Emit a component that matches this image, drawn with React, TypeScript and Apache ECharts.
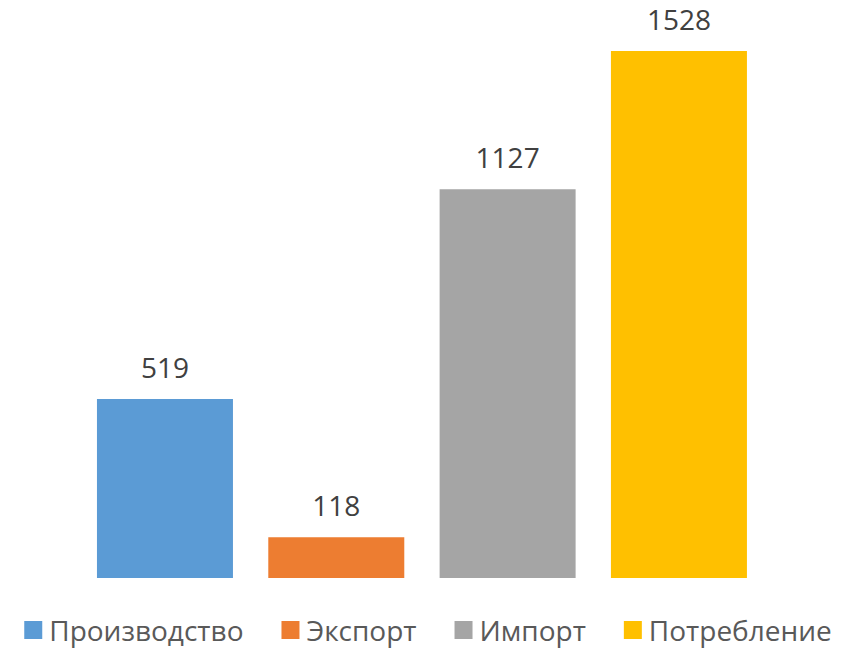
import React, { useEffect, useRef } from "react";
import * as echarts from "echarts";

const categories = ["Производство", "Экспорт", "Импорт", "Потребление"];
const values = [519, 118, 1127, 1528];
const colors = ["#5B9BD5", "#ED7D31", "#A5A5A5", "#FFC000"];

export default function App() {
  const ref = useRef<HTMLDivElement>(null);
  useEffect(() => {
    const chart = echarts.init(ref.current!, null, { renderer: "svg" });
    const series = categories.map((name, i) => ({
      name,
      type: "bar",
      stack: "all",
      barWidth: 136,
      itemStyle: { color: colors[i] },
      label: {
        show: true,
        position: "top",
        distance: 18,
        fontSize: 28,
        fontFamily: "Open Sans",
        color: "#404040",
      },
      data: categories.map((_, j) => (j === i ? values[i] : "-")),
    }));
    chart.setOption({
      animation: false,
      grid: { left: 79.3, width: 685.3, top: 51, bottom: 73 },
      xAxis: {
        type: "category",
        data: categories,
        show: false,
      },
      yAxis: { type: "value", min: 0, max: 1528, show: false },
      legend: {
        top: 616,
        left: "center",
        padding: 0,
        itemWidth: 18,
        itemHeight: 18,
        itemGap: 38,
        icon: "rect",
        textStyle: { fontSize: 28, fontFamily: "Open Sans", color: "#595959", padding: [0, 0, 0, 2] },
        data: categories,
      },
      series,
    });
    return () => chart.dispose();
  }, []);
  return (
    <div style={{ position: "fixed", left: 0, top: 0, width: 856, height: 651, background: "#fff" }}>
      <div ref={ref} style={{ width: 856, height: 651 }} />
    </div>
  );
}
